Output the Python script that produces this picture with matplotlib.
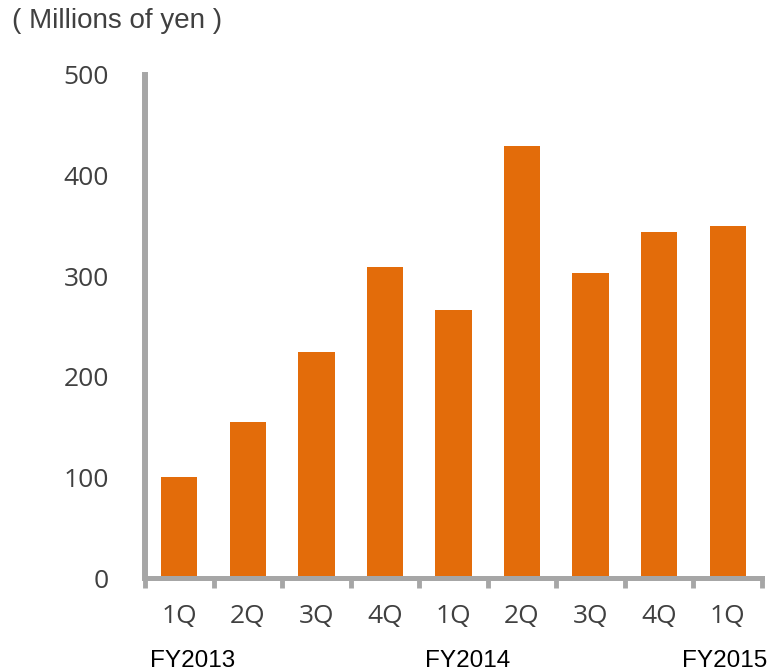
import matplotlib.pyplot as plt

# 数据
quarters = ['1Q', '2Q', '3Q', '4Q', '1Q', '2Q', '3Q', '4Q', '1Q']
values = [100, 155, 225, 309, 266, 429, 303, 344, 350]
fy_labels = ['FY2013', 'FY2014', 'FY2015']
fy_pos = [0.2, 4.2, 7.95]

grey = '#a6a6a6'
text_col = '#404040'

fig = plt.figure(figsize=(7.69, 6.72), dpi=100)
ax = fig.add_axes([145 / 769, (672 - 578) / 672, (762 - 145) / 769, (578 - 75) / 672])

x = range(len(values))
ax.bar(x, values, width=0.53, color='#e36c0a', zorder=2)

ax.set_xlim(-0.5, len(values) - 0.5)
ax.set_ylim(0, 500)

for s in ['top', 'right']:
    ax.spines[s].set_visible(False)
ax.spines['left'].set_color(grey)
ax.spines['left'].set_linewidth(4.3)
ax.spines['bottom'].set_color(grey)
ax.spines['bottom'].set_linewidth(3.6)

ax.set_yticks(range(0, 501, 100))
ax.tick_params(axis='y', length=0, pad=26, labelsize=19, labelcolor=text_col)
for t in ax.get_yticklabels():
    t.set_fontfamily('Open Sans')

ax.set_xticks(list(x))
ax.set_xticklabels(quarters)
ax.tick_params(axis='x', which='major', length=0, pad=19, labelsize=19, labelcolor=text_col)
for t in ax.get_xticklabels():
    t.set_fontfamily('Open Sans')
ax.set_xticks([i - 0.5 for i in range(len(values) + 1)], minor=True)
ax.tick_params(axis='x', which='minor', length=7, width=3.5, color=grey, direction='out')

# 年度标签
for lab, p in zip(fy_labels, fy_pos):
    ax.text(p, -0.165, lab, transform=ax.get_xaxis_transform(), ha='center', va='center',
            fontsize=17.5, family='Liberation Sans', color='black')

fig.text(12 / 769, 1 - 21 / 672, '( Millions of yen )', ha='left', va='center',
         fontsize=20, family='Liberation Sans', color=text_col)

plt.savefig('out.png', dpi=100)
